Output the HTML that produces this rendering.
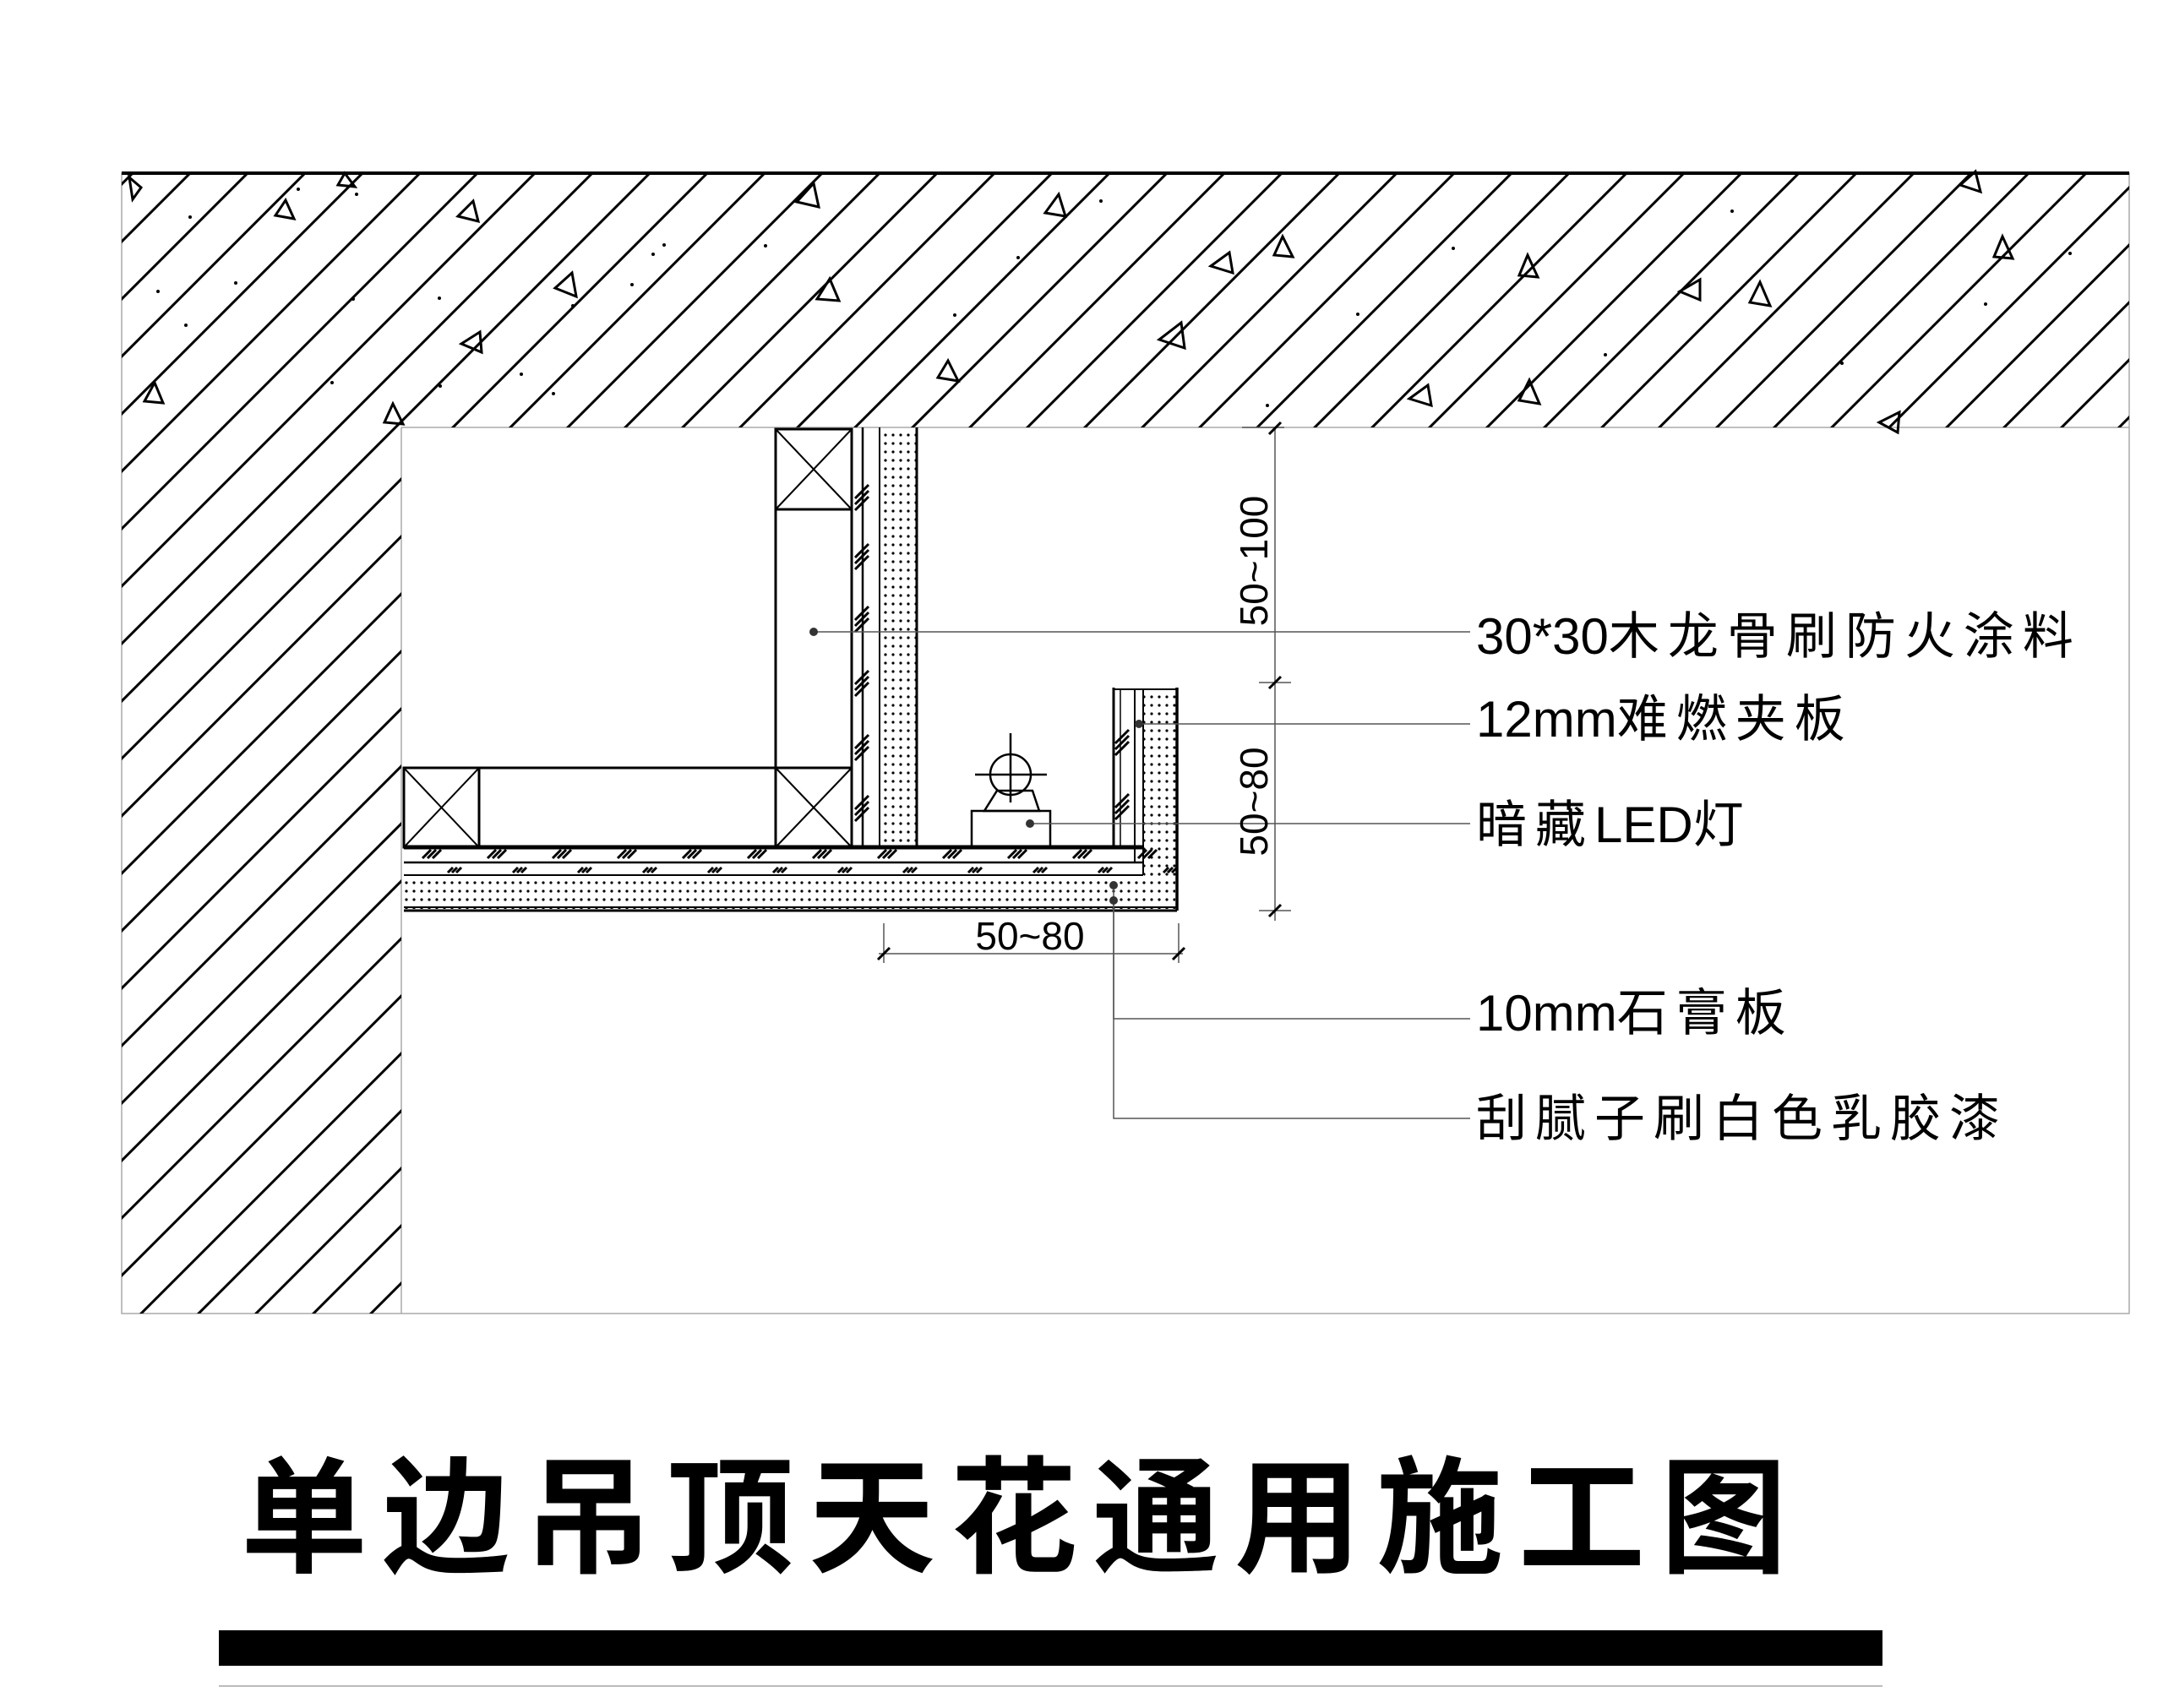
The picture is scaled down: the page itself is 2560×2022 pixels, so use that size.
<!DOCTYPE html>
<html><head><meta charset="utf-8"><style>
html,body{margin:0;padding:0;background:#fff}
svg{display:block}
.lbl{font-family:"Liberation Sans","Noto Sans CJK SC",sans-serif;font-size:60px;fill:#000}
.cj{letter-spacing:10px}
</style></head><body>
<svg width="2560" height="2022" viewBox="0 0 2560 2022" xmlns="http://www.w3.org/2000/svg">
<defs>
<clipPath id="hc"><path d="M144 205 H2520 V506 H475 V1555 H144 Z"/></clipPath>
<pattern id="dots" width="9" height="10" patternUnits="userSpaceOnUse"><circle cx="4" cy="5" r="1.6" fill="#000"/></pattern>
</defs>
<rect width="2560" height="2022" fill="#fff"/>
<rect x="144" y="205" width="2376" height="1350" fill="none" stroke="#aaa" stroke-width="1.5"/>
<line x1="475" y1="506" x2="2520" y2="506" stroke="#aaa" stroke-width="1.5"/>
<line x1="475" y1="506" x2="475" y2="1555" stroke="#aaa" stroke-width="1.5"/>
<g id="hatch" clip-path="url(#hc)" stroke="#000" stroke-width="3"></g>
<line x1="144" y1="205" x2="2520" y2="205" stroke="#000" stroke-width="4"/>
<g fill="none" stroke="#000" stroke-width="3">
<path d="M338 237 l-12 18 l22 4 z"/><path d="M560 238 l-18 18 l24 6 z"/><path d="M963 217 l-20 22 l26 6 z"/>
<path d="M1253 230 l-16 22 l24 4 z"/><path d="M677 323 l-20 18 l25 10 z"/><path d="M982 330 l-15 24 l26 2 z"/>
<path d="M568 393 l-22 14 l24 10 z"/><path d="M465 478 l-10 22 l22 2 z"/><path d="M183 453 l-12 22 l22 2 z"/>
<path d="M1122 427 l-12 20 l24 4 z"/><path d="M1398 382 l-26 20 l30 10 z"/><path d="M1455 299 l-22 16 l26 8 z"/>
<path d="M1518 280 l-10 22 l22 2 z"/><path d="M1808 302 l-10 24 l22 2 z"/><path d="M1690 456 l-22 16 l26 8 z"/>
<path d="M1810 450 l-12 24 l24 4 z"/><path d="M2012 331 l-24 14 l24 10 z"/><path d="M2083 334 l-12 24 l24 4 z"/>
<path d="M2370 280 l-10 24 l22 2 z"/><path d="M2338 203 l-18 16 l24 8 z"/><path d="M2248 488 l-24 12 l22 12 z"/>
<path d="M408 205 l-8 14 l20 2 z"/><path d="M153 210 l14 12 l-10 14 z"/>
</g>
<g fill="#000">
<circle cx="225" cy="257" r="2"/><circle cx="187" cy="345" r="2"/><circle cx="220" cy="385" r="2"/><circle cx="279" cy="335" r="2"/>
<circle cx="393" cy="453" r="2"/><circle cx="520" cy="353" r="2"/><circle cx="418" cy="354" r="2"/><circle cx="422" cy="230" r="2"/>
<circle cx="353" cy="224" r="2"/><circle cx="521" cy="457" r="2"/><circle cx="617" cy="443" r="2"/><circle cx="655" cy="466" r="2"/>
<circle cx="678" cy="362" r="2"/><circle cx="748" cy="337" r="2"/><circle cx="773" cy="301" r="2"/><circle cx="786" cy="290" r="2"/>
<circle cx="906" cy="291" r="2"/><circle cx="1130" cy="373" r="2"/><circle cx="1205" cy="305" r="2"/><circle cx="1303" cy="238" r="2"/>
<circle cx="1607" cy="372" r="2"/><circle cx="1720" cy="294" r="2"/><circle cx="1900" cy="420" r="2"/><circle cx="2050" cy="250" r="2"/>
<circle cx="2180" cy="430" r="2"/><circle cx="2350" cy="360" r="2"/><circle cx="2450" cy="300" r="2"/><circle cx="1500" cy="480" r="2"/>
</g>
<g stroke="#000" fill="none">
<rect x="918" y="508" width="90" height="495" stroke-width="3"/>
<line x1="918" y1="603" x2="1008" y2="603" stroke-width="3"/>
<line x1="918" y1="508" x2="1008" y2="603" stroke-width="2"/><line x1="1008" y1="508" x2="918" y2="603" stroke-width="2"/>
<line x1="918" y1="909" x2="1008" y2="909" stroke-width="3"/>
<line x1="918" y1="909" x2="1008" y2="1003" stroke-width="2"/><line x1="1008" y1="909" x2="918" y2="1003" stroke-width="2"/>
<rect x="478" y="909" width="89" height="94" stroke-width="3"/>
<line x1="478" y1="909" x2="567" y2="1003" stroke-width="2"/><line x1="567" y1="909" x2="478" y2="1003" stroke-width="2"/>
<line x1="567" y1="909" x2="918" y2="909" stroke-width="3"/>
<line x1="1021" y1="506" x2="1021" y2="1003" stroke-width="2.5"/>
<line x1="1041" y1="506" x2="1041" y2="1003" stroke-width="2"/>
<line x1="1085" y1="506" x2="1085" y2="1003" stroke-width="3"/>
</g>
<rect x="1042" y="508" width="42" height="494" fill="url(#dots)"/>
<rect x="478" y="1037" width="913" height="39" fill="url(#dots)"/>
<rect x="1354" y="816" width="38" height="222" fill="url(#dots)"/>
<g stroke="#000" fill="none">
<line x1="478" y1="1003" x2="1353" y2="1003" stroke-width="5"/>
<line x1="478" y1="1021" x2="1353" y2="1021" stroke-width="2.5"/>
<line x1="478" y1="1036" x2="1353" y2="1036" stroke-width="2"/>
<line x1="478" y1="1074" x2="1393" y2="1074" stroke-width="2"/>
<line x1="478" y1="1078" x2="1393" y2="1078" stroke-width="3"/>
<line x1="1353" y1="1003" x2="1353" y2="1036" stroke-width="2"/>
<line x1="1318" y1="814" x2="1318" y2="1003" stroke-width="3"/>
<line x1="1326" y1="816" x2="1326" y2="1003" stroke-width="1.5"/>
<line x1="1343" y1="816" x2="1343" y2="1021" stroke-width="2"/>
<line x1="1353" y1="816" x2="1353" y2="1036" stroke-width="2"/>
<line x1="1393" y1="814" x2="1393" y2="1078" stroke-width="3.5"/>
<line x1="1318" y1="816" x2="1393" y2="816" stroke-width="2"/>
<circle cx="1196" cy="917" r="24" stroke-width="2.5"/>
<line x1="1154" y1="917" x2="1239" y2="917" stroke-width="2.5"/>
<line x1="1196" y1="868" x2="1196" y2="950" stroke-width="2.5"/>
<path d="M1180 936 H1222 L1230 960 H1165 Z" stroke-width="2.5"/>
<rect x="1150" y="960" width="93" height="43" stroke-width="2.5"/>
</g>
<g stroke="#000" stroke-width="3">
<path d="M1012 590 l16 -16 M1012 597 l16 -16 M1012 604 l16 -16"/>
<path d="M1012 660 l16 -16 M1012 667 l16 -16 M1012 674 l16 -16"/>
<path d="M1012 734 l16 -16 M1012 741 l16 -16 M1012 748 l16 -16"/>
<path d="M1012 810 l16 -16 M1012 817 l16 -16 M1012 824 l16 -16"/>
<path d="M1012 886 l16 -16 M1012 893 l16 -16 M1012 900 l16 -16"/>
<path d="M1012 958 l16 -16 M1012 965 l16 -16 M1012 972 l16 -16"/>
<path d="M1320 880 l16 -16 M1320 887 l16 -16 M1320 894 l16 -16"/>
<path d="M1320 956 l16 -16 M1320 963 l16 -16 M1320 970 l16 -16"/>
</g>
<g stroke="#000" stroke-width="3" id="ht"></g>
<g stroke="#555" stroke-width="1.5" fill="none">
<line x1="963" y1="748" x2="1740" y2="748"/>
<line x1="1348" y1="857" x2="1740" y2="857"/>
<line x1="1219" y1="975" x2="1740" y2="975"/>
<path d="M1318 1048 V1206 H1740"/>
<path d="M1318 1066 V1324 H1740"/>
<line x1="1509" y1="506" x2="1509" y2="1090"/>
<line x1="1470" y1="506" x2="1520" y2="506"/>
<line x1="1490" y1="808" x2="1528" y2="808"/>
<line x1="1490" y1="1078" x2="1528" y2="1078"/>
<line x1="1040" y1="1129" x2="1400" y2="1129"/>
<line x1="1046" y1="1093" x2="1046" y2="1140"/>
<line x1="1395" y1="1093" x2="1395" y2="1140"/>
</g>
<g stroke="#000" stroke-width="3"><path d="M1502 514 l14 -14 M1502 815 l14 -14 M1502 1085 l14 -14 M1039 1136 l14 -14 M1388 1136 l14 -14"/></g>
<g fill="#333"><circle cx="963" cy="748" r="5"/><circle cx="1348" cy="857" r="5"/><circle cx="1219" cy="975" r="5"/><circle cx="1318" cy="1048" r="5"/><circle cx="1318" cy="1066" r="5"/></g>
<g font-family="Liberation Sans Narrow, Liberation Sans, sans-serif" font-size="46" fill="#000">
<text transform="translate(1500,664) rotate(-90)" text-anchor="middle">50~100</text>
<text transform="translate(1500,949) rotate(-90)" text-anchor="middle">50~80</text>
<text x="1219" y="1124" text-anchor="middle">50~80</text>
</g>
<text class="lbl" x="1747" y="774"><tspan>30*30</tspan><tspan class="cj">木龙骨刷防火涂料</tspan></text>
<text class="lbl" x="1747" y="872"><tspan>12mm</tspan><tspan class="cj">难燃夹板</tspan></text>
<text class="lbl" x="1747" y="997"><tspan class="cj">暗藏</tspan><tspan>LED</tspan><tspan class="cj">灯</tspan></text>
<text class="lbl" x="1747" y="1220"><tspan>10mm</tspan><tspan class="cj">石膏板</tspan></text>
<text class="lbl" x="1747" y="1345"><tspan class="cj">刮腻子刷白色乳胶漆</tspan></text>
<text x="285" y="1850" font-family="Liberation Sans, Noto Sans CJK SC, sans-serif" font-size="150" font-weight="bold" letter-spacing="18" fill="#000">单边吊顶天花通用施工图</text>
<rect x="259" y="1930" width="1969" height="42" fill="#000"/>
<line x1="259" y1="1996" x2="2228" y2="1996" stroke="#bbb" stroke-width="2"/>
</svg>
<script>
(function(){
var ns="http://www.w3.org/2000/svg";
var g=document.getElementById("hatch");
for(var c=22;c<3800;c+=68){
 var l=document.createElementNS(ns,"line");
 l.setAttribute("x1",c-1560);l.setAttribute("y1",1560);
 l.setAttribute("x2",c-200);l.setAttribute("y2",200);
 g.appendChild(l);
}
var h=document.getElementById("ht");
var d="";
for(var x=500;x<1350;x+=77){
 d+="M"+x+" 1016 l10 -10 M"+(x+6)+" 1016 l10 -10 M"+(x+12)+" 1016 l10 -10 ";
 d+="M"+(x+30)+" 1033 l6 -6 M"+(x+35)+" 1033 l6 -6 M"+(x+40)+" 1033 l6 -6 ";
}
var p=document.createElementNS(ns,"path");p.setAttribute("d",d);h.appendChild(p);
})();
</script>
</body></html>
